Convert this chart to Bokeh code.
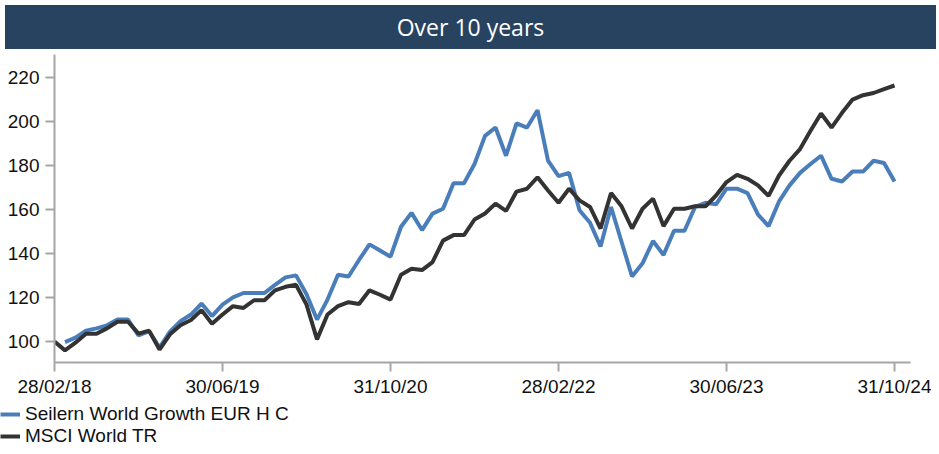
from bokeh.plotting import figure
from bokeh.models import Div, Legend, LegendItem, FixedTicker, Range1d
from bokeh.embed import file_html
from bokeh.resources import INLINE

nan = float("nan")

title_text = "Over 10 years"
series_names = ["Seilern World Growth EUR H C", "MSCI World TR"]

# month index 0 = 28/02/18 ... 80 = 31/10/24
months = list(range(81))

seilern = [nan, 99.8, 101.8, 105.0, 106.0, 107.4, 110.0, 110.0, 102.8, 104.8,
           97.3, 104.5, 109.3, 112.3, 117.3, 111.6, 116.8, 120.1, 122.1, 122.1,
           122.1, 125.8, 129.2, 130.1, 121.5, 110.0, 119.1, 130.4, 129.6, 137.1,
           144.2, 141.4, 138.6, 152.2, 158.5, 150.7, 158.2, 160.4, 172.0, 172.0,
           180.7, 193.5, 197.3, 184.5, 199.2, 197.3, 205.2, 182.3, 175.2, 176.7,
           159.7, 154.0, 143.2, 161.2, 145.4, 129.6, 135.6, 145.7, 139.4, 150.4,
           150.4, 161.2, 163.1, 162.4, 169.5, 169.5, 167.5, 157.7, 152.5, 163.7,
           171.0, 176.7, 180.7, 184.5, 174.0, 172.8, 177.3, 177.3, 182.2, 181.2,
           172.8]

msci = [100.0, 96.0, 99.5, 103.6, 103.6, 106.0, 109.0, 109.0, 103.6, 105.0,
        96.4, 103.3, 107.4, 109.8, 114.3, 108.1, 112.3, 116.1, 115.3, 118.8,
        118.8, 123.3, 124.9, 125.8, 116.8, 101.0, 112.3, 116.1, 117.9, 117.1,
        123.3, 121.3, 119.1, 130.4, 133.1, 132.5, 136.1, 145.9, 148.4, 148.4,
        155.5, 158.2, 162.7, 159.4, 168.2, 169.5, 174.7, 168.7, 163.1, 169.5,
        164.2, 161.2, 151.4, 167.5, 161.5, 151.4, 160.4, 165.0, 152.5, 160.4,
        160.4, 161.5, 161.5, 166.4, 172.5, 175.8, 174.0, 171.0, 166.2, 175.5,
        182.2, 187.5, 195.8, 203.7, 197.3, 204.0, 210.0, 212.0, 213.0, 214.8,
        216.4]

x_tick_months = [0, 16, 32, 48, 64, 80]
x_tick_labels = ["28/02/18", "30/06/19", "31/10/20", "28/02/22", "30/06/23", "31/10/24"]
y_ticks = [100, 120, 140, 160, 180, 200, 220]

BLUE = "#4a7ebb"
DARK = "#333333"
AXIS = "#a6a6a6"
FONT = "Liberation Sans"
LW = 4

W = 931
HEAD_H = 44

header = Div(
    text=title_text,
    width=W, height=HEAD_H,
    styles={
        "background-color": "#27435f",
        "color": "white",
        "font-family": "'Open Sans', sans-serif",
        "font-size": "23px",
        "text-align": "center",
        "line-height": f"{HEAD_H}px",
        "width": f"{W}px",
        "height": f"{HEAD_H}px",
    },
)

p = figure(width=W, height=345, output_backend="svg", toolbar_location=None,
           x_range=Range1d(0, 81.52), y_range=Range1d(90.5, 230.5),
           min_border_left=54, min_border_right=21, min_border_top=0,
           min_border_bottom=35)
p.outline_line_color = None
p.xgrid.grid_line_color = None
p.ygrid.grid_line_color = None
p.background_fill_color = "white"
p.border_fill_color = "white"

p.line(months, seilern, line_color=BLUE, line_width=LW)
p.line(months, msci, line_color=DARK, line_width=LW)

for ax in (p.xaxis[0], p.yaxis[0]):
    ax.axis_line_color = AXIS
    ax.axis_line_width = 2
    ax.major_tick_line_color = AXIS
    ax.major_tick_line_width = 2
    ax.major_tick_out = 9
    ax.major_tick_in = 0
    ax.minor_tick_line_color = None
    ax.major_label_text_font = FONT
    ax.major_label_text_font_size = "19px"
    ax.major_label_text_color = "#111111"

p.xaxis[0].ticker = FixedTicker(ticks=x_tick_months)
p.xaxis[0].major_label_overrides = {m: l for m, l in zip(x_tick_months, x_tick_labels)}
p.xaxis[0].major_label_standoff = 4
p.yaxis[0].ticker = FixedTicker(ticks=y_ticks)
p.yaxis[0].major_label_standoff = 6

# legend in its own strip below the chart (series drawn outside its visible range)
lg = figure(width=W, height=48, output_backend="svg", toolbar_location=None,
            x_range=Range1d(0, 1), y_range=Range1d(0, 1),
            x_axis_location=None, y_axis_location=None,
            min_border_left=0, min_border_right=0, min_border_top=0,
            min_border_bottom=0)
lg.grid.visible = False
lg.outline_line_color = None
lg.background_fill_color = "white"
lg.border_fill_color = "white"
l1 = lg.line(months, seilern, line_color=BLUE, line_width=LW)
l2 = lg.line(months, msci, line_color=DARK, line_width=LW)

legend = Legend(
    items=[LegendItem(label=series_names[0], renderers=[l1]),
           LegendItem(label=series_names[1], renderers=[l2])],
    location=(0, 0),
    orientation="vertical",
    border_line_color=None,
    background_fill_alpha=0,
    padding=0, margin=0, spacing=0,
    label_text_font=FONT, label_text_font_size="19px",
    label_text_color="#111111",
    label_height=20, glyph_height=20, glyph_width=20,
    label_standoff=5,
)
lg.add_layout(legend, "center")

open("out.html", "w").write(file_html([header, p, lg], INLINE))
